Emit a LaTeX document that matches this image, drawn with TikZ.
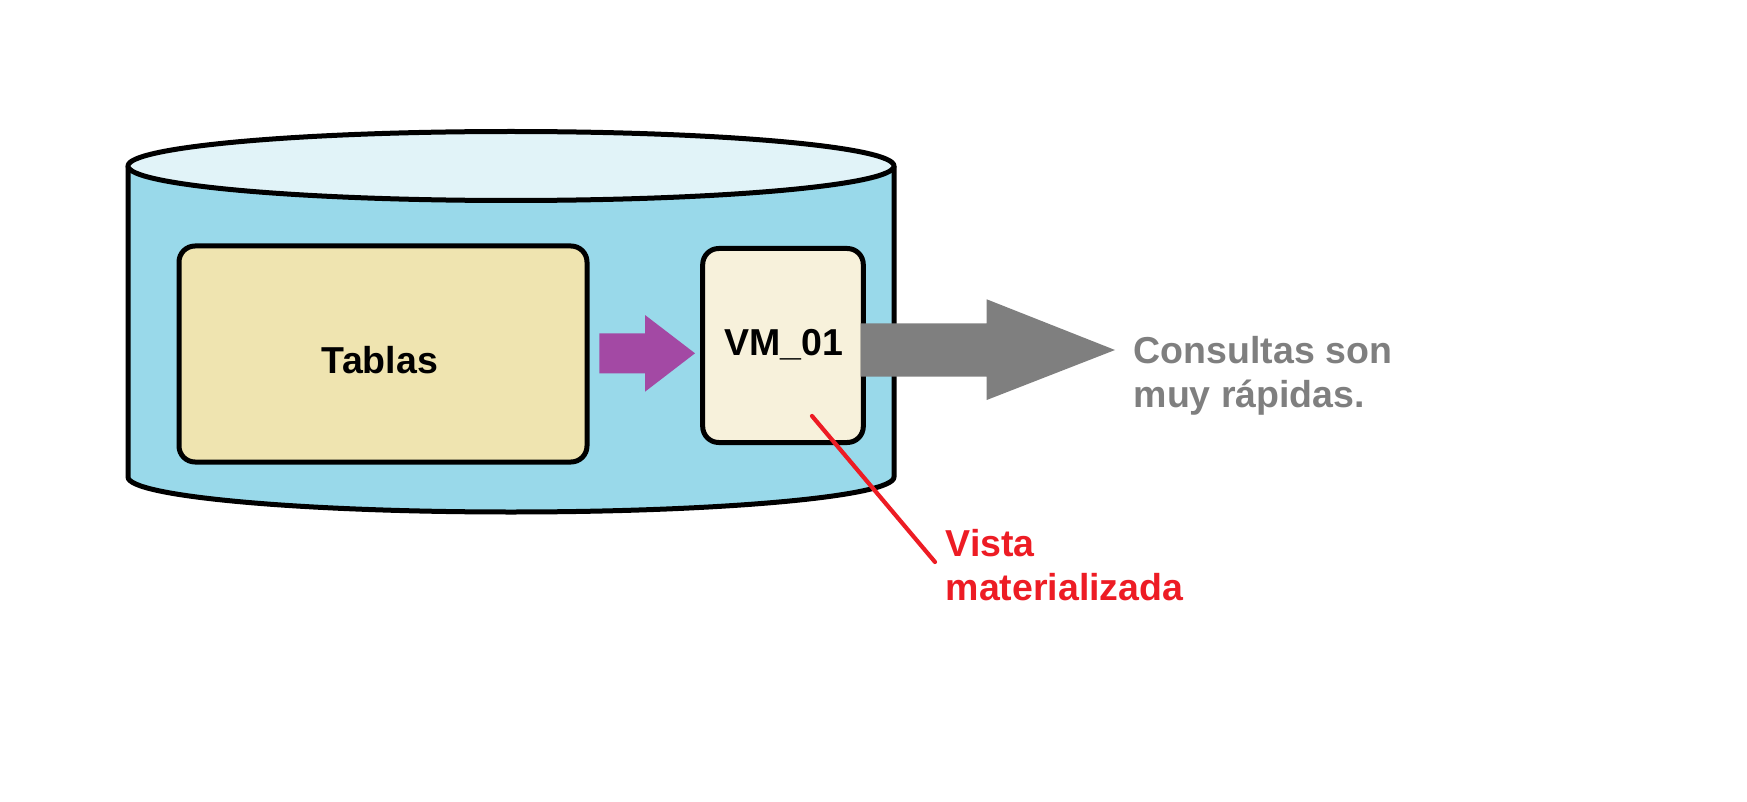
\documentclass[tikz,border=0pt]{standalone}
\usepackage{fontspec}
\setmainfont{Liberation Sans}
\definecolor{cylside}{RGB}{153,217,234}
\definecolor{cyltop}{RGB}{225,243,248}
\definecolor{tabfill}{RGB}{239,228,176}
\definecolor{vmfill}{RGB}{247,241,219}
\definecolor{arrpurple}{RGB}{163,73,164}
\definecolor{arrgray}{RGB}{127,127,127}
\definecolor{labred}{RGB}{237,28,36}
\tikzset{
  outline/.style={draw=black, line width=5pt, line join=round},
  boxshape/.style={outline, rounded corners=16pt, inner sep=0pt},
  lbl/.style={font=\fontsize{37.5}{44}\selectfont\bfseries, inner sep=0pt},
  redline/.style={draw=labred, line width=4.2pt, line cap=round},
}
\begin{document}
\begin{tikzpicture}[x=1pt,y=-1pt]
\useasboundingbox (0,0) rectangle (1747,802);
% cylinder
\fill[cylside] (128,166) -- (128,477) arc[start angle=180, end angle=0, x radius=383, y radius=35] -- (894,166) -- cycle;
\draw[outline] (128,166) -- (128,477) arc[start angle=180, end angle=0, x radius=383, y radius=35] -- (894,166);
\filldraw[outline, fill=cyltop] (511,166) ellipse[x radius=383, y radius=34.5];
% boxes
\node[boxshape, fill=tabfill, minimum width=408pt, minimum height=216pt] (tablas) at (383,354) {};
\node[boxshape, fill=vmfill, minimum width=160.6pt, minimum height=194pt] (vm) at (783,345.5) {};
\node[lbl, anchor=base] (tablastxt) at (380,373.5) {Tablas};
\node[lbl, anchor=base] (vmtxt) at (783.5,355.5) {VM\_01};
% purple arrow
\fill[arrpurple] (599.3,333.3) -- (645,333.3) -- (645,315) -- (695,353.3) -- (645,391.7) -- (645,373.3) -- (599.3,373.3) -- cycle;
% gray arrow
\fill[arrgray] (860.7,323.3) -- (986.7,323.3) -- (986.7,299.3) -- (1115,350) -- (986.7,400) -- (986.7,376.7) -- (860.7,376.7) -- cycle;
% labels (base anchor = last line baseline)
\node[lbl, text=arrgray, anchor=base west, align=left] (consultas) at (1133.5,407.3) {Consultas son\\muy rápidas.};
\node[lbl, text=labred, anchor=base west, align=left] (vista) at (945.5,600.7) {Vista\\materializada};
\coordinate (pin) at (812,416);
\coordinate (pinend) at (935,562);
\draw[redline] (pin) -- (pinend);
\end{tikzpicture}
\end{document}
